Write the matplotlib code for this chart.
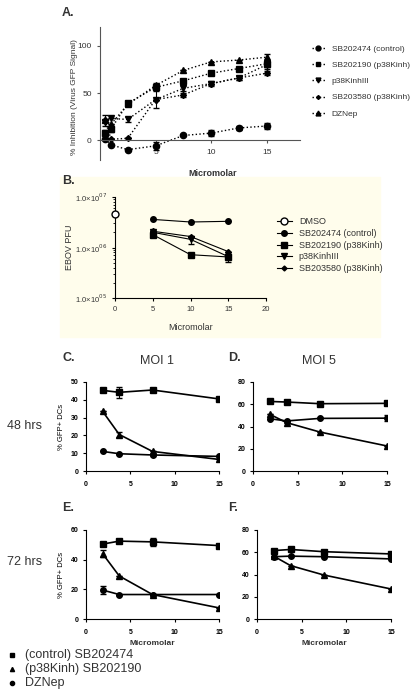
import numpy as np
import matplotlib
matplotlib.use('Agg')
import matplotlib.pyplot as plt
from matplotlib.patches import Rectangle
from matplotlib.lines import Line2D

plt.rcParams['font.family'] = ['Liberation Sans', 'DejaVu Sans']

W, H = 415, 698

# ---- panel A data ----
a_x = [0.45, 1.0, 2.5, 5, 7.5, 10, 12.5, 15]
a_ctrl = [1, -5, -10, -6, 5, 7.5, 13, 15]
a_ctrl_err = [0, 0, 0, 4, 0, 3, 2, 3]
a_190 = [8, 12, 39, 56, 63, 71, 76, 81]
a_190_err = [3, 3, 3, 3, 2, 2, 2, 3]
a_kIII = [19, 23, 22, 43, 55, 60, 66, 80]
a_kIII_err = [0, 0, 3, 9, 3, 3, 2, 4]
a_580 = [21, 1, 2, 43, 48, 60, 66, 71]
a_580_err = [6, 0, 0, 0, 2, 2, 2, 2]
a_dzn = [21, 17, 38, 58, 74, 83, 85, 88]
a_dzn_err = [0, 0, 0, 3, 0, 0, 0, 3]
a_labels = ['SB202474 (control)', 'SB202190 (p38Kinh)', 'p38KinhIII',
            'SB203580 (p38Kinh)', 'DZNep']

# ---- panel B data ----
b_dmso_x = [0]
b_dmso = [4.6e6]
b_x = [5, 10, 15]
b_ctrl = [3.6e6, 3.2e6, 3.3e6]
b_190 = [1.8e6, 7.2e5, 6.5e5]
b_kIII = [2.0e6, 1.45e6, 6.6e5]
b_kIII_err = [0, 2.5e5, 1.5e5]
b_580 = [2.1e6, 1.65e6, 8.3e5]
b_labels = ['DMSO', 'SB202474 (control)', 'SB202190 (p38Kinh)', 'p38KinhIII',
            'SB203580 (p38Kinh)']

# ---- panels C-F data ----
cf_x = [1.875, 3.75, 7.5, 15]
c_ctrl = [45.3, 44.2, 45.5, 40.5]
c_ctrl_err = [0, 3, 0, 0]
c_190 = [33.5, 20.5, 11, 6.5]
c_190_err = [0, 1.2, 0, 0]
c_dzn = [11, 9.7, 9, 8.2]
c_dzn_err = [0, 0, 0.8, 0]

d_ctrl = [62.5, 62, 60.5, 60.8]
d_190 = [51, 43.5, 35, 22.5]
d_dzn = [47, 45, 47.3, 47.5]
d_dzn_err = [0, 0, 0, 3]

e_ctrl = [50.5, 52.5, 52, 49.5]
e_ctrl_err = [0, 0, 2.5, 0]
e_190 = [44, 29, 16.5, 7.5]
e_190_err = [2.5, 0, 0, 0]
e_dzn = [19.5, 16.5, 16.5, 16.5]
e_dzn_err = [2.5, 0, 0, 0]

f_ctrl = [61.5, 62.5, 60.5, 58.5]
f_190 = [56.5, 48, 39.5, 27]
f_dzn = [56, 56.5, 56, 54]

bottom_labels = ['(control) SB202474', '(p38Kinh) SB202190', 'DZNep']

fig = plt.figure(figsize=(W / 100, H / 100), dpi=100)


def px_axes(left, top, right, bottom):
    return fig.add_axes([left / W, 1 - bottom / H, (right - left) / W, (bottom - top) / H])


def ftext(x, y, s, **kw):
    fig.text(x / W, 1 - y / H, s, **kw)


gray = '#333333'

# ================= Panel A =================
ax = px_axes(100, 27, 300, 160)
ax.set_xlim(0, 18)
ax.set_ylim(-21, 120)
series = [(a_ctrl, a_ctrl_err, 'o'), (a_190, a_190_err, 's'), (a_kIII, a_kIII_err, 'v'),
          (a_580, a_580_err, 'D'), (a_dzn, a_dzn_err, '^')]
handles = []
for (vals, err, m), lab in zip(series, a_labels):
    ms = 3 if m == 'D' else 4.5
    ax.errorbar(a_x, vals, yerr=err, color='black', marker=m, ms=ms, ls=':', lw=1,
                capsize=2.5, elinewidth=0.8)
    handles.append(Line2D([], [], color='black', marker=m, ms=ms - 1, ls=':', lw=1, label=lab))
ax.spines['top'].set_visible(False)
ax.spines['right'].set_visible(False)
ax.spines['bottom'].set_position(('data', 0))
ax.spines['left'].set_color('#555555')
ax.spines['bottom'].set_color('#555555')
ax.set_yticks([0, 50, 100])
ax.set_xticks([5, 10, 15])
ax.tick_params(labelsize=6, length=2.5, colors='#555555', labelcolor=gray)
ax.set_ylabel('% Inhibition (Virus GFP Signal)', fontsize=6, color=gray)
ax.yaxis.set_label_coords(-0.11, 0.47)
ax.legend(handles=handles, loc='upper left', bbox_to_anchor=(1.02, 0.92), frameon=False,
          fontsize=6, handlelength=1.6, labelspacing=1.0, labelcolor=gray)
ftext(62, 13, 'A.', fontsize=9, fontweight='bold', va='center', color=gray)
ftext(213, 173, 'Micromolar', fontsize=6.5, fontweight='bold', ha='center', va='center', color=gray)

# ================= Panel B =================
fig.patches.append(Rectangle((60 / W, 1 - 337 / H), 320 / W, 160 / H,
                             transform=fig.transFigure, color='#FFFDEC', zorder=-10))
ax = px_axes(115, 197, 266, 298)
ax.set_facecolor('none')
ax.set_yscale('log')
ax.set_xlim(0, 20)
ax.set_ylim(1e5, 1e7)
ax.plot(b_dmso_x, b_dmso, marker='o', mfc='white', mec='black', ms=5, ls='-', color='black',
        lw=0.8, clip_on=False, zorder=5)
ax.plot(b_x, b_ctrl, marker='o', ms=4, color='black', lw=0.8)
ax.plot(b_x, b_190, marker='s', ms=4, color='black', lw=0.8)
ax.errorbar(b_x, b_kIII, yerr=b_kIII_err, marker='v', ms=4, color='black', lw=0.8,
            capsize=2, elinewidth=0.8)
ax.plot(b_x, b_580, marker='D', ms=3, color='black', lw=0.8)
b_handles = [Line2D([], [], marker='o', mfc='white', mec='black', ms=5, color='black', lw=0.8),
             Line2D([], [], marker='o', ms=4, color='black', lw=0.8),
             Line2D([], [], marker='s', ms=4, color='black', lw=0.8),
             Line2D([], [], marker='v', ms=4, color='black', lw=0.8),
             Line2D([], [], marker='D', ms=2.5, color='black', lw=0.8)]
ax.spines['top'].set_visible(False)
ax.spines['right'].set_visible(False)
ax.set_xticks([0, 5, 10, 15, 20])
ax.set_yticks([1e5, 1e6, 1e7])
ax.set_yticklabels(['1.0×10$^{05}$', '1.0×10$^{06}$', '1.0×10$^{07}$'])
ax.tick_params(labelsize=5.5, length=2.5, labelcolor=gray)
ax.tick_params(axis='y', which='minor', length=1.5)
ax.set_ylabel('EBOV PFU', fontsize=6.5, color=gray)
ax.yaxis.set_label_coords(-0.27, 0.5)
ax.set_xlabel('Micromolar', fontsize=6.5, color=gray, labelpad=7)
ax.legend(b_handles, b_labels, loc='upper left', bbox_to_anchor=(1.02, 0.88), frameon=False,
          fontsize=6.5, handlelength=1.6, labelspacing=0.3, labelcolor=gray)
ftext(62, 181, 'B.', fontsize=9, fontweight='bold', va='center', color=gray)


# ================= Panels C-F =================
def small_panel(box, ymax, ystep, ctrl, ctrl_err, p190, p190_err, dzn, dzn_err, xlabel=False):
    ax = px_axes(*box)
    ax.set_xlim(0, 15)
    ax.set_ylim(0, ymax)
    kw = dict(color='black', lw=1.2, capsize=2.5, elinewidth=0.8)
    ax.errorbar(cf_x, ctrl, yerr=ctrl_err, marker='s', ms=4, **kw)
    ax.errorbar(cf_x, p190, yerr=p190_err, marker='^', ms=4, **kw)
    ax.errorbar(cf_x, dzn, yerr=dzn_err, marker='o', ms=4, **kw)
    ax.spines['top'].set_visible(False)
    ax.spines['right'].set_visible(False)
    ax.set_xticks([0, 5, 10, 15])
    ax.set_yticks(np.arange(0, ymax + 1, ystep))
    ax.tick_params(labelsize=5, length=2)
    for t in ax.get_xticklabels() + ax.get_yticklabels():
        t.set_fontweight('bold')
    ax.tick_params(axis='x', pad=5)
    if xlabel:
        ax.set_xlabel('Micromolar', fontsize=6, fontweight='bold', color=gray, labelpad=3)
    return ax


ax = small_panel((86, 382, 219, 471), 50, 10, c_ctrl, c_ctrl_err, c_190, c_190_err, c_dzn, c_dzn_err)
ax.set_ylabel('% GFP+ DCs', fontsize=5.5)
small_panel((253, 382, 387, 471), 80, 20, d_ctrl, [0] * 4, d_190, [0] * 4, d_dzn, d_dzn_err)
ax = small_panel((86, 530, 219, 619), 60, 20, e_ctrl, e_ctrl_err, e_190, e_190_err, e_dzn, e_dzn_err,
                 xlabel=True)
ax.set_ylabel('% GFP+ DCs', fontsize=5.5)
small_panel((257, 530, 391, 619), 80, 20, f_ctrl, [0] * 4, f_190, [0] * 4, f_dzn, [0] * 4, xlabel=True)

ftext(62, 358, 'C.', fontsize=9, fontweight='bold', va='center', color=gray)
ftext(228, 358, 'D.', fontsize=9, fontweight='bold', va='center', color=gray)
ftext(62, 508, 'E.', fontsize=9, fontweight='bold', va='center', color=gray)
ftext(228, 508, 'F.', fontsize=9, fontweight='bold', va='center', color=gray)
ftext(157, 361, 'MOI 1', fontsize=9, ha='center', va='center', color=gray)
ftext(319, 361, 'MOI 5', fontsize=9, ha='center', va='center', color=gray)
ftext(7, 426, '48 hrs', fontsize=9, va='center', color=gray)
ftext(7, 562, '72 hrs', fontsize=9, va='center', color=gray)

# bottom legend
leg_markers = ['s', '^', 'o']
leg_y = [655, 669, 683]
for m, y, lab in zip(leg_markers, leg_y, bottom_labels):
    fig.add_artist(Line2D([12 / W], [1 - y / H], marker=m, ms=3, color='black',
                          transform=fig.transFigure))
    ftext(25, y, lab, fontsize=9, va='center', color=gray)

fig.savefig('out.png', dpi=100)
